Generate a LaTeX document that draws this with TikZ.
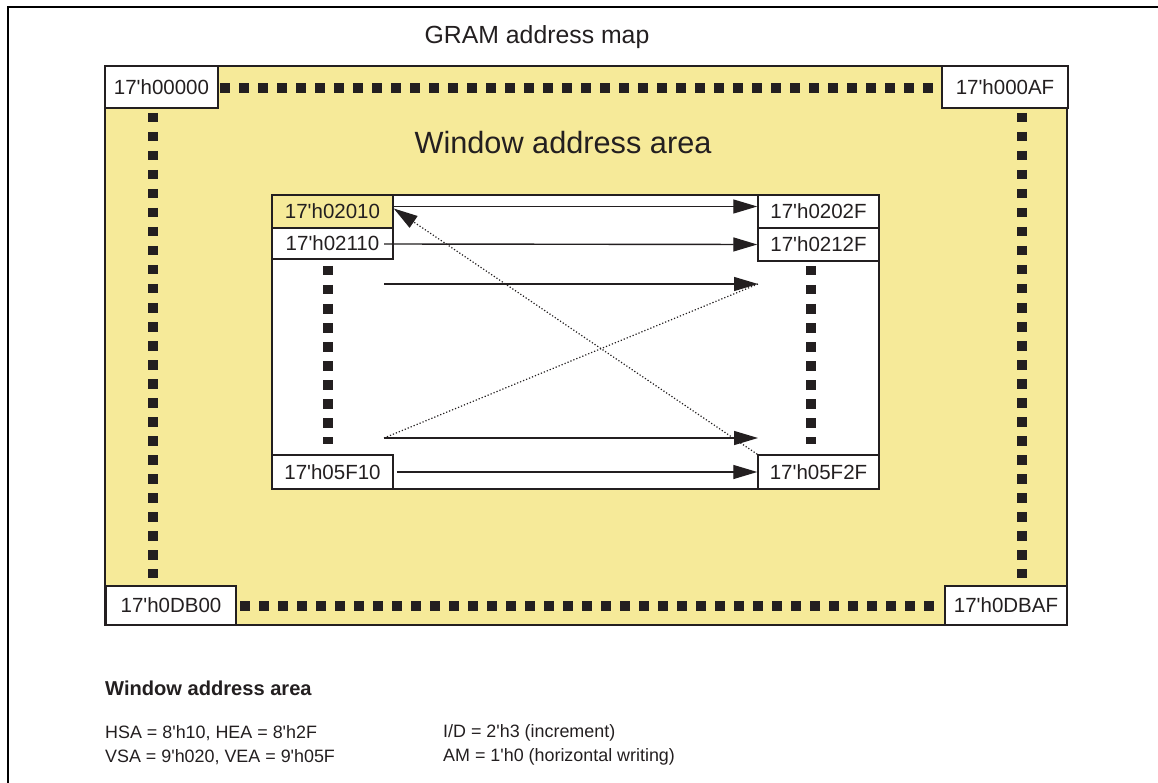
\documentclass[tikz,border=0pt]{standalone}
\usepackage{fontspec}
\setmainfont{Liberation Sans}[Ligatures=TeXOff]
\usetikzlibrary{arrows.meta}
\definecolor{GRInk}{RGB}{35,31,32}
\definecolor{GRYellow}{RGB}{246,234,153}

\begin{document}
\begin{tikzpicture}[x=1pt, y=-1pt,
          addr/.style={rectangle, draw=GRInk, line width=1.5pt, fill=white,
                       text=GRInk, inner sep=0pt, minimum height=33pt,
                       minimum width=121pt, font=\fontsize{20.5}{24}\selectfont},
          sq/.style={GRInk, line width=9.5pt, dash pattern=on 9.5pt off 9.5pt},
          fw/.style={-{Triangle[length=24pt, width=14pt]}, GRInk, line width=1.4pt},
          bw/.style={-{Triangle[length=24pt, width=14pt]}, GRInk, line width=1.2pt,
                     dotted},
          txt/.style={text=GRInk, inner sep=0pt}
        ]
        \useasboundingbox (0,0) rectangle (1158,783);
        % Frame
        \draw[black, line width=1.6pt] (8,783) -- (8,7) -- (1158,7);
        \node[txt, font=\fontsize{24.8}{28}\selectfont] (title) at (537,37)
              {GRAM address map};

        % GRAM area
        \draw[GRInk, line width=1.5pt, fill=GRYellow] (105,66) rectangle (1067,625);
        \node[txt, font=\fontsize{30.7}{34}\selectfont] (area) at (563,143)
              {Window address area};

        % Corner addresses
        \node[addr, minimum width=113pt, minimum height=42pt] (c00000) at (161.5,87)  {17'h00000};
        \node[addr, minimum width=126pt, minimum height=42pt] (c000AF) at (1005,87)   {17'h000AF};
        \node[addr, minimum width=130pt, minimum height=39pt] (c0DB00) at (171,605.5) {17'h0DB00};
        \node[addr, minimum width=122pt, minimum height=39pt] (c0DBAF) at (1006,605.5) {17'h0DBAF};

        % Outer square dots
        \draw[sq] (220,88) -- (936,88);
        \draw[sq] (240,606) -- (940,606);
        \draw[sq] (153,113) -- (153,578);
        \draw[sq] (1022,113) -- (1022,578);

        % Window
        \draw[GRInk, line width=1.5pt, fill=white] (272,195) rectangle (879,489);
        \node[addr, fill=GRYellow] (w02010) at (332.5,211.5) {17'h02010};
        \node[addr, minimum height=31pt] (w02110) at (332.5,243.5) {17'h02110};
        \node[addr] (w0202F) at (818.5,211.5) {17'h0202F};
        \node[addr] (w0212F) at (818.5,244.5) {17'h0212F};
        \node[addr, minimum height=34pt] (w05F10) at (332.5,472) {17'h05F10};
        \node[addr, minimum height=34pt] (w05F2F) at (818.5,472) {17'h05F2F};

        % Inner square dots
        \draw[sq] (328,266) -- (328,444);
        \draw[sq] (811,266) -- (811,444);

        % Write direction
        \coordinate (s2) at (384,244);
        \coordinate (s3) at (384,284);
        \coordinate (e3) at (758,284);
        \coordinate (s4) at (384,438);
        \coordinate (e4) at (758,438);
        \draw[fw] ([yshift=5pt]w02010.east) -- ([yshift=5pt]w0202F.west);
        \draw[fw] (s2) -- (w0212F.west);
        \draw[fw] (s3) -- (e3);
        \draw[fw] (s4) -- (e4);
        \draw[fw] ([xshift=3pt]w05F10.east) -- (w05F2F.west);

        % Return
        \draw[GRInk, line width=1.2pt, dotted] (s4) -- (e3);
        \draw[bw] (w05F2F.north west) -- ([yshift=3pt]w02010.east);

        % Register settings
        \node[txt, anchor=west, font=\bfseries\fontsize{20.1}{24}\selectfont] (wtitle) at (105,688)
              {Window address area};
        \node[txt, anchor=west, font=\fontsize{17.9}{21}\selectfont] (hsa) at (105,733)
              {HSA = 8'h10, HEA = 8'h2F};
        \node[txt, anchor=west, font=\fontsize{17.9}{21}\selectfont] (vsa) at (105,757)
              {VSA = 9'h020, VEA = 9'h05F};
        \node[txt, anchor=west, font=\fontsize{17.9}{21}\selectfont] (id) at (443,733)
              {I/D = 2'h3 (increment)};
        \node[txt, anchor=west, font=\fontsize{17.9}{21}\selectfont] (am) at (443,757)
              {AM = 1'h0 (horizontal writing)};
      \end{tikzpicture}
\end{document}
